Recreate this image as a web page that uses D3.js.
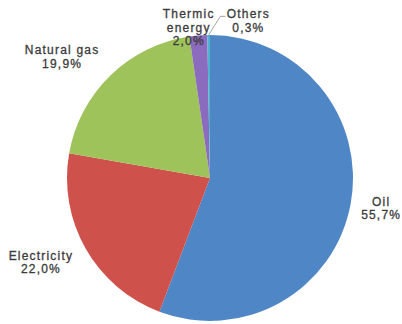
<!DOCTYPE html>
<html>
<head>
<meta charset="utf-8">
<script src="https://cdn.jsdelivr.net/npm/d3@7"></script>
<style>
  html, body { margin: 0; padding: 0; background: #fff; }
  svg { display: block; }
  .lbl { font-family: "Liberation Sans", Arial, sans-serif; font-size: 12px; letter-spacing: 1.2px; fill: #3b3b3b; stroke: #3b3b3b; stroke-width: 0.3px; }
</style>
</head>
<body>
<div id="chart"></div>
<script>
var categories = ["Oil", "Electricity", "Natural gas", "Thermic energy", "Others"];
var nameLines = [["Oil"], ["Electricity"], ["Natural gas"], ["Thermic", "energy"], ["Others"]];
var shares = [55.7, 22.0, 19.9, 2.0, 0.3];
var colors = ["#4f86c6", "#cf514b", "#9fc35b", "#8a6bbd", "#4cb4cf"];

var dataset = categories.map(function(c, i) {
  return {caption: c, lines: nameLines[i], value: shares[i]};
});

function pieChart() {
  var width = 402;
  var height = 324;
  var radius = 143;
  var lineHeight = 13.3;

  var color = d3.scaleOrdinal().domain(categories).range(colors);
  var fmt = function(v) { return d3.format(".1f")(v).replace(".", ",") + "%"; };

  var svg = d3.select('#chart')
    .append('svg')
    .attr('width', width)
    .attr('height', height);

  var g = svg.append('g')
    .attr('transform', 'translate(210, 178)');

  var arc = d3.arc()
    .innerRadius(0)
    .outerRadius(radius);

  var labelArc = d3.arc()
    .innerRadius(175)
    .outerRadius(175);

  var edgeArc = d3.arc()
    .innerRadius(radius)
    .outerRadius(radius);

  var pie = d3.pie()
    .value(function(d) { return d.value; })
    .sort(null);

  var arcs = pie(dataset);

  g.selectAll('path')
    .data(arcs)
    .enter()
    .append('path')
    .attr('d', arc)
    .attr('fill', function(d) { return color(d.data.caption); });

  // nudges to mimic the "best fit" placement of the original
  var nudge = {
    "Oil": [-1, -1],
    "Electricity": [-17, -2],
    "Natural gas": [-26, 4.5],
    "Thermic energy": [-7, 24],
    "Others": [40, 18]
  };

  g.selectAll('text.lbl')
    .data(arcs)
    .enter()
    .append('text')
    .attr('class', 'lbl')
    .attr('text-anchor', 'middle')
    .each(function(d) {
      var c = labelArc.centroid(d);
      var n = nudge[d.data.caption];
      var x = c[0] + n[0];
      var lines = d.data.lines.concat([fmt(d.data.value)]);
      var y0 = c[1] + n[1] - (lines.length - 1) * lineHeight / 2 + 4;
      var t = d3.select(this);
      lines.forEach(function(s, i) {
        t.append('tspan')
          .attr('x', x)
          .attr('y', y0 + i * lineHeight)
          .text(s);
      });
      d.lx = x;
      d.ly = y0;
    });

  // leader line for the thin "Others" slice
  var others = arcs[arcs.length - 1];
  var p0 = edgeArc.centroid(others);
  var lx = others.lx - 23;
  var ly = others.ly - 2;
  g.append('path')
    .attr('d', d3.line()([p0, [lx - 5, ly], [lx, ly]]))
    .attr('fill', 'none')
    .attr('stroke', '#8c8c8c')
    .attr('stroke-width', 0.8);
}

pieChart();
</script>
</body>
</html>
